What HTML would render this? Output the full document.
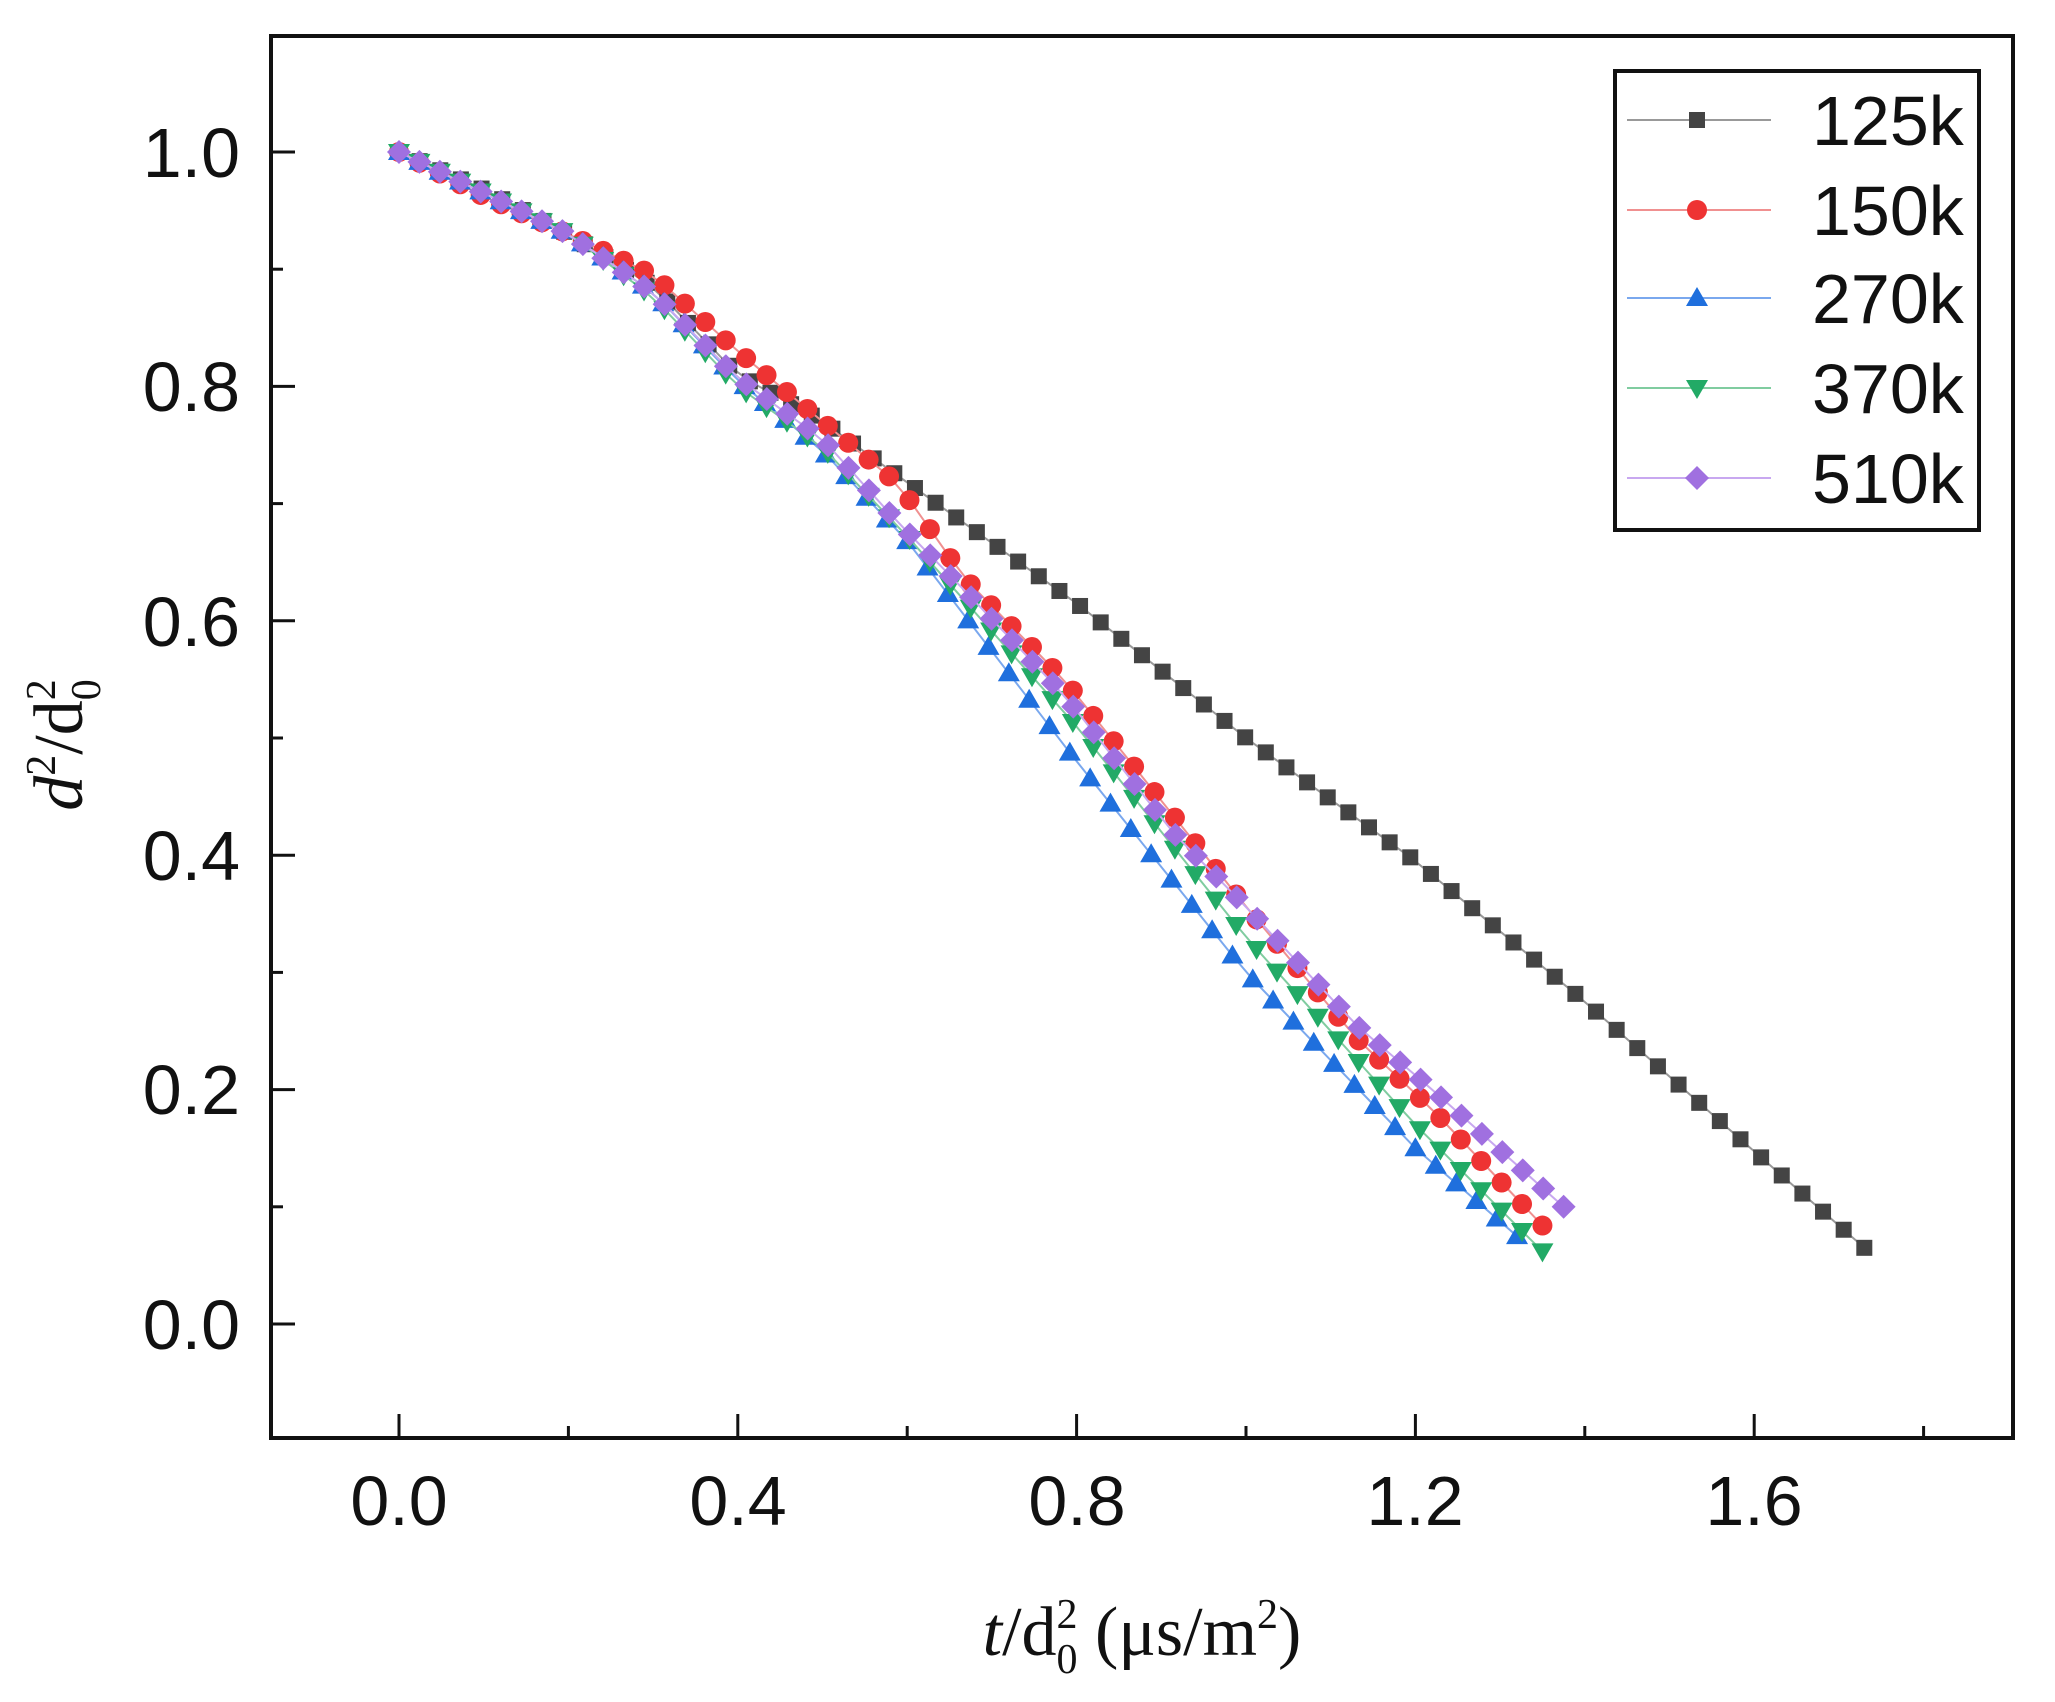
<!DOCTYPE html>
<html><head><meta charset="utf-8"><style>
html,body{margin:0;padding:0;background:#fff;}
svg{display:block;}
</style></head><body>
<svg id="s" width="2055" height="1702" viewBox="0 0 2055 1702" xmlns="http://www.w3.org/2000/svg">
<rect width="2055" height="1702" fill="#fff"/>
<g id="plot"></g>
<rect x="271" y="36" width="1742" height="1402" fill="none" stroke="#111" stroke-width="4"/>
<g id="ticks" stroke="#111" stroke-width="3"></g>
<g font-family="Liberation Sans, sans-serif" font-size="70" fill="#111" text-anchor="end">
<text x="240" y="1349">0.0</text>
<text x="240" y="1114">0.2</text>
<text x="240" y="880">0.4</text>
<text x="240" y="646">0.6</text>
<text x="240" y="411">0.8</text>
<text x="240" y="177">1.0</text>
</g>
<g font-family="Liberation Sans, sans-serif" font-size="70" fill="#111" text-anchor="middle">
<text x="399" y="1525">0.0</text>
<text x="738" y="1525">0.4</text>
<text x="1077" y="1525">0.8</text>
<text x="1415" y="1525">1.2</text>
<text x="1754" y="1525">1.6</text>
</g>
<g font-family="Liberation Serif, serif" font-size="70" fill="#111">
<text transform="translate(82,745) rotate(-90)" text-anchor="middle"><tspan font-style="italic">d</tspan><tspan font-size="42" dy="-27">2</tspan><tspan dy="27">/d</tspan><tspan font-size="42" dy="-27">2</tspan><tspan font-size="42" dx="-21" dy="45">0</tspan></text>
<text x="1142" y="1655" text-anchor="middle"><tspan font-style="italic">t</tspan><tspan>/d</tspan><tspan font-size="42" dy="-27">2</tspan><tspan font-size="42" dx="-21" dy="45">0</tspan><tspan dy="-18"> (μs/m</tspan><tspan font-size="42" dy="-27">2</tspan><tspan dy="27">)</tspan></text>
</g>
<rect x="1615" y="71" width="364" height="459" fill="#fff" stroke="#111" stroke-width="4"/>
<g id="leg"></g>
<g font-family="Liberation Sans, sans-serif" font-size="70" fill="#111">
<text x="1812" y="145">125k</text>
<text x="1812" y="235">150k</text>
<text x="1812" y="323">270k</text>
<text x="1812" y="413">370k</text>
<text x="1812" y="503">510k</text>
</g>
</svg>
<script>
var NS="http://www.w3.org/2000/svg";
function X(v){return 399+847*v;}
function Y(v){return 1324-1172*v;}
function el(p,t,a){var e=document.createElementNS(NS,t);for(var k in a)e.setAttribute(k,a[k]);p.appendChild(e);return e;}
var tk=document.getElementById('ticks');
for(var i=0;i<=10;i++){var v=i*0.1;var L=(i%2==0)?24:12;el(tk,'line',{x1:271,y1:Y(v),x2:271+L,y2:Y(v)});}
for(var i=0;i<=9;i++){var v=i*0.2;var L=(i%2==0)?24:12;el(tk,'line',{x1:X(v),y1:1438,x2:X(v),y2:1438-L});}
function interp(pts,x){for(var i=0;i<pts.length-1;i++){if(x<=pts[i+1][0]){var a=pts[i],b=pts[i+1];return a[1]+(b[1]-a[1])*(x-a[0])/(b[0]-a[0]);}}return pts[pts.length-1][1];}
var series=[
{c:'#444',lc:'#999',m:'sq',end:1.73,p:[[0,1],[0.1,0.968],[0.2,0.93],[0.3,0.885],[0.4,0.81],[0.5,0.77],[0.6,0.718],[0.8,0.615],[1.0,0.50],[1.2,0.395],[1.4,0.275],[1.58,0.16],[1.73,0.065]]},
{c:'#ee3333',lc:'#f09090',m:'ci',end:1.35,p:[[0,1],[0.1,0.962],[0.2,0.93],[0.3,0.895],[0.4,0.83],[0.5,0.77],[0.589,0.717],[0.667,0.637],[0.786,0.549],[0.883,0.462],[1.0,0.356],[1.13,0.244],[1.22,0.183],[1.35,0.084]]},
{c:'#1f6fdd',lc:'#7aa8ee',m:'tu',end:1.32,p:[[0,1],[0.1,0.965],[0.2,0.93],[0.3,0.88],[0.4,0.805],[0.5,0.745],[0.6,0.668],[0.8,0.48],[1.0,0.30],[1.2,0.15],[1.32,0.075]]},
{c:'#22aa66',lc:'#80cca0',m:'td',end:1.35,p:[[0,1],[0.1,0.965],[0.2,0.93],[0.3,0.876],[0.4,0.8],[0.5,0.748],[0.6,0.672],[0.8,0.51],[1.0,0.33],[1.2,0.17],[1.35,0.062]]},
{c:'#a070e0',lc:'#c8a8f0',m:'di',end:1.375,p:[[0,1],[0.1,0.965],[0.2,0.93],[0.3,0.88],[0.4,0.807],[0.5,0.755],[0.589,0.684],[0.665,0.628],[0.786,0.536],[0.913,0.42],[1.0,0.356],[1.13,0.255],[1.22,0.20],[1.375,0.10]]}
];
function marker(g,m,x,y,c){
 if(m=='sq')el(g,'rect',{x:x-8,y:y-8,width:16,height:16,fill:c});
 else if(m=='ci')el(g,'circle',{cx:x,cy:y,r:10,fill:c});
 else if(m=='tu')el(g,'polygon',{points:(x-11)+','+(y+8)+' '+(x+11)+','+(y+8)+' '+x+','+(y-11),fill:c});
 else if(m=='td')el(g,'polygon',{points:(x-11)+','+(y-8)+' '+(x+11)+','+(y-8)+' '+x+','+(y+11),fill:c});
 else el(g,'polygon',{points:x+','+(y-12)+' '+(x+12)+','+y+' '+x+','+(y+12)+' '+(x-12)+','+y,fill:c});
}
var pl=document.getElementById('plot');
var step=0.0242;
series.forEach(function(s){
 var g=el(pl,'g',{});var pts=[];
 var n=Math.round(s.end/step);var st=s.end/n;
 for(var i=0;i<=n;i++){var x=i*st;pts.push([X(x),Y(interp(s.p,x))]);}
 el(g,'polyline',{points:pts.map(function(q){return q[0].toFixed(1)+','+q[1].toFixed(1)}).join(' '),fill:'none',stroke:s.lc,'stroke-width':2});
 pts.forEach(function(q){marker(g,s.m,q[0],q[1],s.c);});
});
var lg=document.getElementById('leg');
var ly=[120,210,298,388,478];
series.forEach(function(s,i){el(lg,'line',{x1:1627,y1:ly[i],x2:1771,y2:ly[i],stroke:s.lc,'stroke-width':2});marker(lg,s.m,1697,ly[i],s.c);});
</script>
</body></html>
